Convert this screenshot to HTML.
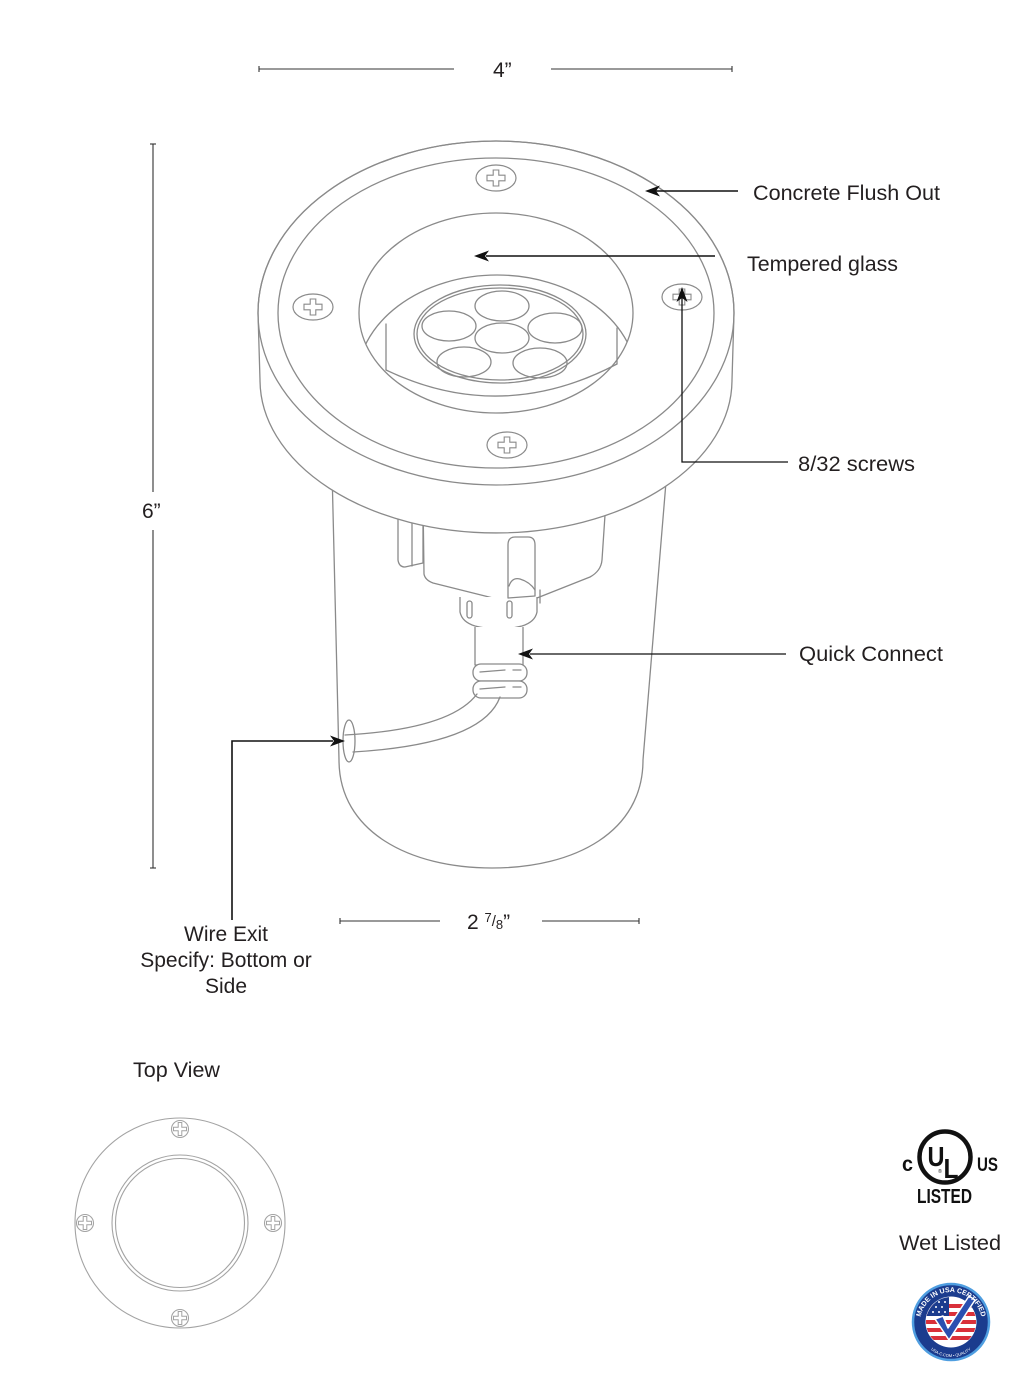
<!DOCTYPE html>
<html>
<head>
<meta charset="utf-8">
<style>
  html,body{margin:0;padding:0;background:#fff;}
  svg{display:block;}
  .lbl{font-family:"Liberation Sans",Arial,sans-serif;font-size:21px;fill:#231f20;}
  .dw{fill:none;stroke:#8a8a8a;stroke-width:1.3;stroke-linejoin:round;stroke-linecap:round;}
  .dwf{fill:#fff;stroke:#8a8a8a;stroke-width:1.3;stroke-linejoin:round;}
  .tv{fill:none;stroke:#a3a3a3;stroke-width:1.1;}
  .ld{fill:none;stroke:#111;stroke-width:1.6;}
  .dim{fill:none;stroke:#333;stroke-width:1.1;}
  .ah{fill:#111;stroke:none;}
</style>
</head>
<body>
<svg width="1030" height="1386" viewBox="0 0 1030 1386" xmlns="http://www.w3.org/2000/svg">
  <defs>
    <g id="screw">
      <ellipse cx="0" cy="0" rx="20" ry="13" fill="#fff" stroke="#8a8a8a" stroke-width="1.2"/>
      <path d="M-2.8,-8 H2.8 V-2.8 H9 V2.8 H2.8 V8 H-2.8 V2.8 H-9 V-2.8 H-2.8 Z" fill="none" stroke="#8a8a8a" stroke-width="1.1"/>
    </g>
    <g id="tscrew">
      <circle cx="0" cy="0" r="8.5" fill="#fff" stroke="#a3a3a3" stroke-width="1.1"/>
      <path d="M-1.8,-6.5 H1.8 V-1.8 H6.5 V1.8 H1.8 V6.5 H-1.8 V1.8 H-6.5 V-1.8 H-1.8 Z" fill="none" stroke="#a3a3a3" stroke-width="1"/>
    </g>
    <clipPath id="openClip">
      <ellipse cx="496" cy="313" rx="137" ry="100"/>
    </clipPath>
    <clipPath id="badgeClip">
      <circle cx="0" cy="0" r="25"/>
    </clipPath>
    <path id="badgeTop" d="M-29,12 A31,31 0 1 1 29,12"/>
    <path id="badgeBot" d="M-31,4 A31,31 0 0 0 31,4"/>
  </defs>

  <!-- ========== DIMENSION LINES ========== -->
  <line class="dim" x1="259" y1="69" x2="454" y2="69"/>
  <line class="dim" x1="259" y1="66" x2="259" y2="72"/>
  <line class="dim" x1="551" y1="69" x2="732" y2="69"/>
  <line class="dim" x1="732" y1="66" x2="732" y2="72"/>
  <text class="lbl" x="493" y="77">4”</text>

  <line class="dim" x1="153" y1="144" x2="153" y2="492"/>
  <line class="dim" x1="150" y1="144" x2="156" y2="144"/>
  <line class="dim" x1="153" y1="530" x2="153" y2="868"/>
  <line class="dim" x1="150" y1="868" x2="156" y2="868"/>
  <text class="lbl" x="142" y="518">6”</text>

  <line class="dim" x1="340" y1="921" x2="440" y2="921"/>
  <line class="dim" x1="340" y1="918" x2="340" y2="924"/>
  <line class="dim" x1="542" y1="921" x2="639" y2="921"/>
  <line class="dim" x1="639" y1="918" x2="639" y2="924"/>
  <text class="lbl" x="467" y="929">2 <tspan font-size="13" dy="-7">7</tspan><tspan font-size="15" dy="4">/</tspan><tspan font-size="13" dy="3">8</tspan><tspan dy="0">”</tspan></text>

  <!-- ========== BODY ========== -->
  <path class="dwf" d="M332,470 L339,760 C339,832 410,868 492,868 C575,868 643,832 643,760 L667,470 Z"/>

  <path class="dwf" d="M398,505 L398,560 Q399,567 405,567 L423,563 L423,505 Z"/>
  <line class="dw" x1="412" y1="505" x2="412" y2="566"/>
  <path class="dwf" d="M423,500 L424,574 Q425,580 433,583 L505,601 L537,598 L590,577 Q601,571 602,560 L606,500 Z"/>
  <path class="dwf" d="M460,597 L460,612 Q462,622 475,626 Q498,632 522,626 Q535,622 537,612 L537,597"/>
  <rect x="467" y="601" width="5" height="17" rx="2.5" class="dw"/>
  <rect x="507" y="601" width="5" height="17" rx="2.5" class="dw"/>
  <path class="dwf" d="M508,598 L508,545 Q508,537 515,537 L528,537 Q535,537 535,545 L535,596 Z"/>
  <path class="dw" d="M509,586 Q512,577 520,579 Q530,582 535,590"/>
  <line class="dw" x1="540" y1="590" x2="540" y2="603"/>
  <path class="dwf" d="M475,627 L475,665 L523,665 L523,627"/>
  <rect x="473" y="664" width="54" height="17" rx="8" class="dwf"/>
  <rect x="473" y="681" width="54" height="17" rx="8" class="dwf"/>
  <path class="dw" d="M480,672 L505,670 M513,670 L521,670 M480,689 L505,687 M513,687 L521,687"/>
  <path class="dw" d="M345,735 C400,732 456,722 477,694"/>
  <path class="dw" d="M353,752 C420,748 486,735 500,697"/>
  <ellipse cx="349" cy="741" rx="6" ry="21" class="dw"/>

  <!-- ========== FLANGE ========== -->
  <path class="dwf" d="M258,313 A238,172 0 0 1 734,313 L732,380 A236,153 0 0 1 260,380 Z"/>
  <ellipse cx="496" cy="313" rx="238" ry="172" class="dw"/>
  <ellipse cx="496" cy="313" rx="218" ry="155" class="dw"/>
  <ellipse cx="496" cy="313" rx="137" ry="100" class="dw"/>

  <g clip-path="url(#openClip)">
    <ellipse cx="497" cy="381" rx="140" ry="106" class="dw"/>
  </g>
  <line class="dw" x1="386" y1="324" x2="386" y2="370"/>
  <line class="dw" x1="617" y1="328" x2="617" y2="364"/>
  <path class="dw" d="M386,370 Q501,425 617,364"/>

  <ellipse cx="500" cy="334" rx="86" ry="49" class="dwf"/>
  <ellipse cx="500" cy="334" rx="83" ry="46" class="dw"/>
  <ellipse cx="502" cy="306" rx="27" ry="15" class="dw"/>
  <ellipse cx="449" cy="326" rx="27" ry="15" class="dw"/>
  <ellipse cx="502" cy="338" rx="27" ry="15" class="dw"/>
  <ellipse cx="555" cy="328" rx="27" ry="15" class="dw"/>
  <ellipse cx="464" cy="362" rx="27" ry="15" class="dw"/>
  <ellipse cx="540" cy="363" rx="27" ry="15" class="dw"/>

  <use href="#screw" x="496" y="178"/>
  <use href="#screw" x="313" y="307"/>
  <use href="#screw" x="682" y="297"/>
  <use href="#screw" x="507" y="445"/>

  <!-- ========== LEADERS ========== -->
  <line class="ld" x1="656" y1="191" x2="738" y2="191"/>
  <polygon class="ah" points="645,191 660,185.5 656,191 660,196.5"/>
  <line class="ld" x1="486" y1="256" x2="715" y2="256"/>
  <polygon class="ah" points="474,256 489,250.5 485,256 489,261.5"/>
  <polyline class="ld" points="788,462 682,462 682,298" style="stroke-width:1.3"/>
  <polygon class="ah" points="682,287 676.5,302 682,298 687.5,302"/>
  <line class="ld" x1="530" y1="654" x2="786" y2="654" style="stroke-width:1.3"/>
  <polygon class="ah" points="518,654 533,648.5 529,654 533,659.5"/>
  <polyline class="ld" points="232,920 232,741 333,741"/>
  <polygon class="ah" points="345,741 330,735.5 334,741 330,746.5"/>

  <!-- ========== LABELS ========== -->
  <text class="lbl" x="753" y="200" textLength="187" lengthAdjust="spacingAndGlyphs">Concrete Flush Out</text>
  <text class="lbl" x="747" y="271" textLength="151" lengthAdjust="spacingAndGlyphs">Tempered glass</text>
  <text class="lbl" x="798" y="471" textLength="117" lengthAdjust="spacingAndGlyphs">8/32 screws</text>
  <text class="lbl" x="799" y="661" textLength="144" lengthAdjust="spacingAndGlyphs">Quick Connect</text>
  <text class="lbl" x="226" y="941" text-anchor="middle">Wire Exit</text>
  <text class="lbl" x="226" y="967" text-anchor="middle">Specify: Bottom or</text>
  <text class="lbl" x="226" y="993" text-anchor="middle">Side</text>
  <text class="lbl" x="133" y="1077" textLength="87" lengthAdjust="spacingAndGlyphs">Top View</text>
  <text class="lbl" x="899" y="1250" textLength="102" lengthAdjust="spacingAndGlyphs">Wet Listed</text>

  <!-- ========== TOP VIEW ========== -->
  <circle cx="180" cy="1223" r="105" class="tv"/>
  <circle cx="180" cy="1223" r="68" class="tv"/>
  <circle cx="180" cy="1223" r="64.5" class="tv"/>
  <use href="#tscrew" x="180" y="1129"/>
  <use href="#tscrew" x="180" y="1318"/>
  <use href="#tscrew" x="85" y="1223"/>
  <use href="#tscrew" x="273" y="1223"/>

  <!-- ========== UL LOGO ========== -->
  <circle cx="945" cy="1157" r="25.5" fill="none" stroke="#111" stroke-width="4.5"/>
  <text x="936" y="1166" font-family="'Liberation Sans',Arial,sans-serif" font-weight="bold" font-size="28" fill="#111" text-anchor="middle" textLength="17" lengthAdjust="spacingAndGlyphs">U</text>
  <text x="951" y="1178" font-family="'Liberation Sans',Arial,sans-serif" font-weight="bold" font-size="28" fill="#111" text-anchor="middle" textLength="15" lengthAdjust="spacingAndGlyphs">L</text>
  <text x="940" y="1173" font-family="'Liberation Sans',Arial,sans-serif" font-size="5" fill="#111" text-anchor="middle">®</text>
  <text x="902" y="1171" font-family="'Liberation Sans',Arial,sans-serif" font-weight="bold" font-size="21" fill="#111" textLength="11" lengthAdjust="spacingAndGlyphs">c</text>
  <text x="977" y="1171" font-family="'Liberation Sans',Arial,sans-serif" font-weight="bold" font-size="19" fill="#111" textLength="21" lengthAdjust="spacingAndGlyphs">US</text>
  <text x="917" y="1203" font-family="'Liberation Sans',Arial,sans-serif" font-weight="bold" font-size="20" fill="#111" textLength="55" lengthAdjust="spacingAndGlyphs">LISTED</text>

  <!-- ========== MADE IN USA BADGE ========== -->
  <g transform="translate(951,1322)">
    <circle r="38" fill="#1b3c8e" stroke="#4f9ee0" stroke-width="2.5"/>
    <circle r="25.5" fill="#fff"/>
    <g clip-path="url(#badgeClip)">
      <rect x="-26" y="-18" width="52" height="4" fill="#d9303a"/>
      <rect x="-26" y="-10" width="52" height="4" fill="#d9303a"/>
      <rect x="-26" y="-2" width="52" height="4" fill="#d9303a"/>
      <rect x="-26" y="6" width="52" height="4" fill="#d9303a"/>
      <rect x="-26" y="14" width="52" height="4" fill="#d9303a"/>
      <rect x="-26" y="-26" width="24" height="20" fill="#1b3c8e"/>
      <g fill="#fff">
        <circle cx="-18" cy="-20" r="1"/><circle cx="-12" cy="-20" r="1"/><circle cx="-6" cy="-20" r="1"/>
        <circle cx="-15" cy="-15" r="1"/><circle cx="-9" cy="-15" r="1"/>
        <circle cx="-18" cy="-10" r="1"/><circle cx="-12" cy="-10" r="1"/><circle cx="-6" cy="-10" r="1"/>
      </g>
    </g>
    <path d="M-16,-3 L-8,-6 L-3,6 L18,-26 L24,-22 L-2,18 Z" fill="#2a4fb0" stroke="#fff" stroke-width="1.5" stroke-linejoin="round"/>
    <text font-family="'Liberation Sans',Arial,sans-serif" font-weight="bold" font-size="7" fill="#fff">
      <textPath href="#badgeTop" startOffset="50%" text-anchor="middle">MADE IN USA CERTIFIED</textPath>
    </text>
    <text font-family="'Liberation Sans',Arial,sans-serif" font-size="4" fill="#fff">
      <textPath href="#badgeBot" startOffset="50%" text-anchor="middle">USA-C.COM • QUALITY</textPath>
    </text>
  </g>
</svg>
</body>
</html>
